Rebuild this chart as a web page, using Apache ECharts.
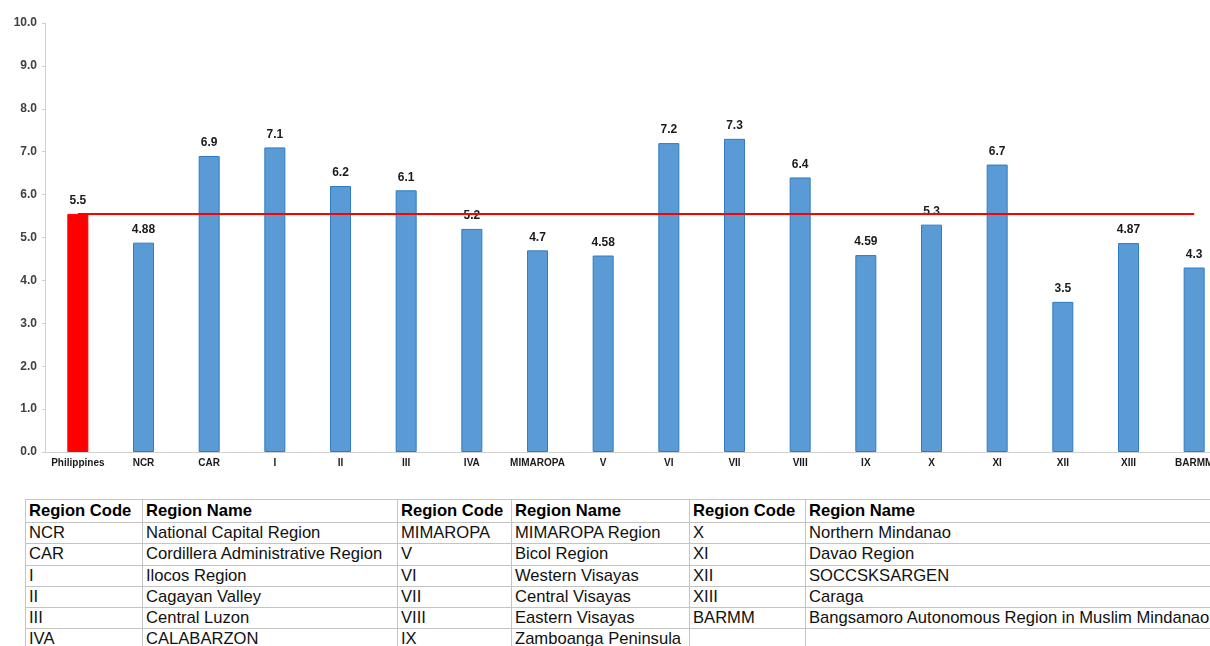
<!DOCTYPE html>
<html>
<head>
<meta charset="utf-8">
<script src="https://cdn.jsdelivr.net/npm/echarts@6/dist/echarts.min.js"></script>
<style>
  html, body { margin: 0; padding: 0; background: #fff; overflow: hidden; width: 1210px; height: 646px; }
  #chart { position: absolute; left: 0; top: 0; width: 1240px; height: 480px; }
  #regions { position: absolute; left: 25px; top: 499px; border-collapse: collapse; table-layout: fixed;
    font-family: "Liberation Sans", Arial, sans-serif; font-size: 16.6px; color: #111; }
  #regions td { border: 1px solid #c4c4c4; height: 20.3px; padding: 0 3px; line-height: 20.3px;
    white-space: nowrap; overflow: hidden; }
  #regions tr.head td { font-weight: bold; color: #000; height: 22px; line-height: 22px; }
</style>
</head>
<body>
<div id="chart"></div>
<table id="regions"></table>
<script>
// chart data
const categories = ['Philippines', 'NCR', 'CAR', 'I', 'II', 'III', 'IVA', 'MIMAROPA', 'V', 'VI',
  'VII', 'VIII', 'IX', 'X', 'XI', 'XII', 'XIII', 'BARMM']
const values = [5.55, 4.88, 6.9, 7.1, 6.2, 6.1, 5.2, 4.7, 4.58, 7.2, 7.3, 6.4, 4.59, 5.3, 6.7, 3.5, 4.87, 4.3]
const valueLabels = ['5.5', '4.88', '6.9', '7.1', '6.2', '6.1', '5.2', '4.7', '4.58', '7.2', '7.3', '6.4',
  '4.59', '5.3', '6.7', '3.5', '4.87', '4.3']
const nationalLevel = 5.55
const yTicks = { min: 0, max: 10, interval: 1 }

// region table data (three column pairs)
const codesA = ['NCR', 'CAR', 'I', 'II', 'III', 'IVA']
const namesA = ['National Capital Region', 'Cordillera Administrative Region', 'Ilocos Region',
  'Cagayan Valley', 'Central Luzon', 'CALABARZON']
const codesB = ['MIMAROPA', 'V', 'VI', 'VII', 'VIII', 'IX']
const namesB = ['MIMAROPA Region', 'Bicol Region', 'Western Visayas', 'Central Visayas',
  'Eastern Visayas', 'Zamboanga Peninsula']
const codesC = ['X', 'XI', 'XII', 'XIII', 'BARMM', '']
const namesC = ['Northern Mindanao', 'Davao Region', 'SOCCSKSARGEN', 'Caraga',
  'Bangsamoro Autonomous Region in Muslim Mindanao', '']
const colWidths = [117, 255, 114, 178, 116, 430]

const chart = echarts.init(document.getElementById('chart'))
const font = '"Liberation Sans", Arial, sans-serif'

chart.setOption({
  animation: false,
  grid: { left: 45, right: 13, top: 23, bottom: 28 },
  xAxis: {
    type: 'category',
    data: categories,
    axisLine: { lineStyle: { color: '#d0d0d0', width: 1 } },
    axisTick: { show: false },
    axisLabel: { fontFamily: font, fontSize: 10, fontWeight: 'bold', color: '#1a1a1a', margin: 6, interval: 0 }
  },
  yAxis: {
    type: 'value',
    min: yTicks.min,
    max: yTicks.max,
    interval: yTicks.interval,
    axisLine: { show: true, lineStyle: { color: '#d0d0d0', width: 1 } },
    axisTick: { show: true, length: 3, lineStyle: { color: '#d0d0d0' } },
    splitLine: { show: false },
    axisLabel: {
      fontFamily: font, fontSize: 12, fontWeight: 'bold', color: '#404040', margin: 8,
      formatter: v => v.toFixed(1)
    }
  },
  series: [{
    type: 'bar',
    barWidth: 21,
    data: values.map((v, i) => ({
      value: v,
      itemStyle: i === 0
        ? { color: '#ff0000', borderColor: '#ff0000', borderWidth: 1 }
        : { color: '#5b9bd5', borderColor: '#2f7bc4', borderWidth: 1 }
    })),
    label: {
      show: true,
      position: 'top',
      distance: 7,
      fontFamily: font,
      fontSize: 12,
      fontWeight: 'bold',
      color: '#1a1a1a',
      formatter: p => valueLabels[p.dataIndex]
    }
  }, {
    type: 'line',
    data: categories.map(() => nationalLevel),
    symbol: 'none',
    z: 5,
    lineStyle: { color: '#ff0000', width: 2 }
  }]
})

// build the region code table
const table = document.getElementById('regions')
const cols = document.createElement('colgroup')
colWidths.forEach(w => {
  const col = document.createElement('col')
  col.style.width = w + 'px'
  cols.appendChild(col)
})
table.appendChild(cols)
table.style.width = colWidths.reduce((a, b) => a + b, 0) + 'px'
const head = document.createElement('tr')
head.className = 'head'
for (let c = 0; c < 3; c++) {
  ['Region Code', 'Region Name'].forEach(t => {
    const td = document.createElement('td')
    td.textContent = t
    head.appendChild(td)
  })
}
table.appendChild(head)
for (let r = 0; r < codesA.length; r++) {
  const tr = document.createElement('tr')
  ;[codesA[r], namesA[r], codesB[r], namesB[r], codesC[r], namesC[r]].forEach(t => {
    const td = document.createElement('td')
    td.textContent = t
    tr.appendChild(td)
  })
  table.appendChild(tr)
}
</script>
</body>
</html>
